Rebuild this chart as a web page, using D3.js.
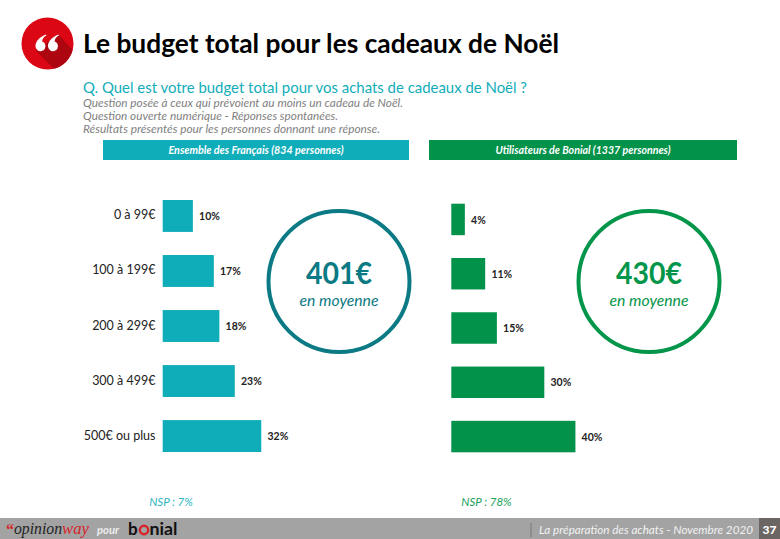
<!DOCTYPE html>
<html><head><meta charset="utf-8">
<script src="https://cdn.jsdelivr.net/npm/d3@7"></script>
<style>html,body{margin:0;padding:0;background:#fff}svg{display:block}</style>
</head><body><svg id="c" width="780" height="539"></svg>
<script>
const categories = ["0 à 99€","100 à 199€","200 à 299€","300 à 499€","500€ ou plus"];
const francais = [9.8,16.6,18.4,23.4,32];
const bonial = [4.4,11,14.8,30.2,40.3];
const panelTitles = ["Ensemble des Français (834 personnes)","Utilisateurs de Bonial (1337 personnes)"];
const averages = ["401€","430€"];
const nsp = ["NSP : 7%","NSP : 78%"];
const notes = ["Question posée à ceux qui prévoient au moins un cadeau de Noël.","Question ouverte numérique - Réponses spontanées.","Résultats présentés pour les personnes donnant une réponse."];

const svg = d3.select("#c");
const SERIF = "'Liberation Serif',serif", SANS = "Lato,sans-serif";
const T = (x,y,s,size,fill,o={}) => svg.append("text").attr("x",x).attr("y",y).text(s)
  .attr("font-family",o.f||SANS)
  .attr("font-size",size).attr("fill",fill).attr("font-weight",o.w||400)
  .attr("font-style",o.i?"italic":"normal").attr("text-anchor",o.a||"start")
  .attr("textLength",o.len||null).attr("lengthAdjust",o.len?"spacingAndGlyphs":null);

// icon
svg.append("circle").attr("cx",47.5).attr("cy",43.5).attr("r",26).attr("fill","#dc0714");
svg.append("path").attr("d","M58 34 L72.6 50 A26 26 0 0 1 54 68.7 L36 51 Z").attr("fill","#ad0610");
[35.5,48].forEach(dx=>svg.append("path")
  .attr("transform",`translate(${dx},34.5)`)
  .attr("d","M10.5 0 C4 2.5 0 7 0 11.5 A5 5 0 1 0 9.5 9.5 C8.8 8 7.5 7.3 6.5 7 C7 4.5 8.5 2 11 0.8 Z")
  .attr("fill","#fff"));

T(83,53,"Le budget total pour les cadeaux de Noël",27,"#000",{w:700,len:476});
T(83,93,"Q. Quel est votre budget total pour vos achats de cadeaux de Noël ?",15,"#12adb9",{len:444});
notes.forEach((n,i)=>T(83,107+i*13,n,11.5,"#7f7f7f",{i:1,len:[320,255,297][i]}));

const panels = [
 {x0:162.7,vals:francais,color:"#0fadb9",dark:"#0b7a84",bar:[103,306],cx:339,top:200,bottom:452,nspC:"#2bb6c1"},
 {x0:451.3,vals:bonial,color:"#03924a",dark:"#03964a",bar:[429,308],cx:649,top:203.7,bottom:452.3,nspC:"#17a05a"}
];
panels.forEach((p,k)=>{
  svg.append("rect").attr("x",p.bar[0]).attr("y",140).attr("width",p.bar[1]).attr("height",20).attr("fill",p.color);
  T(p.bar[0]+p.bar[1]/2,154,panelTitles[k],10.5,"#fff",{i:1,w:700,a:"middle",len:175});
  const x = d3.scaleLinear().domain([0,100]).range([p.x0,p.x0+308]);
  const y = d3.scaleBand().domain(categories).range([p.top,p.bottom]).paddingInner(0.42);
  const g = svg.append("g");
  g.selectAll("rect").data(p.vals).join("rect").attr("x",p.x0).attr("y",(d,i)=>y(categories[i]))
    .attr("width",d=>x(d)-p.x0).attr("height",y.bandwidth()).attr("fill",p.color);
  g.selectAll("text").data(p.vals).join("text").attr("x",d=>x(d)+6.2)
    .attr("y",(d,i)=>y(categories[i])+y.bandwidth()/2+4.2).text(d=>Math.round(d)+"%")
    .attr("font-family",SANS).attr("font-size",10.5).attr("font-weight",700).attr("fill","#222");
  if(k===0) categories.forEach(c=>T(155.5,y(c)+y.bandwidth()/2+3.5,c,12.5,"#222",{a:"end"}));
  svg.append("circle").attr("cx",p.cx).attr("cy",281.5).attr("r",70.5).attr("fill","none").attr("stroke",p.dark).attr("stroke-width",4);
  T(p.cx,284,averages[k],30,p.dark,{w:700,a:"middle",len:66});
  T(p.cx,306,"en moyenne",14.5,p.dark,{i:1,a:"middle",len:79});
  T(k?486.5:171,506,nsp[k],11.5,p.nspC,{i:1,a:"middle"});
});

// footer
svg.append("rect").attr("x",0).attr("y",518).attr("width",780).attr("height",21).attr("fill","#a3a3a3");
svg.append("rect").attr("x",759).attr("y",518).attr("width",21).attr("height",21).attr("fill","#6b6664");
T(769.5,534,"37",12,"#fff",{w:900,a:"middle"});
svg.append("line").attr("x1",531).attr("x2",531).attr("y1",523).attr("y2",537).attr("stroke","#777");
T(539,534,"La préparation des achats - Novembre 2020",12,"#f2f2f2",{i:1,len:214});
T(6,535,"“",16,"#d8232a",{f:SERIF,w:700});
T(14,534,"opinion",16,"#222",{i:1,f:SERIF,len:48});
T(62,534,"way",16,"#d8232a",{i:1,f:SERIF,len:27});
T(97,534,"pour",10.5,"#eee",{i:1,w:700,len:22});
T(128,535,"b",17,"#111",{w:700});
svg.append("circle").attr("cx",144).attr("cy",530).attr("r",4.2).attr("fill","none").attr("stroke","#d8232a").attr("stroke-width",2.4);
T(149.5,535,"nial",17,"#111",{w:700,len:28});
</script></body></html>
